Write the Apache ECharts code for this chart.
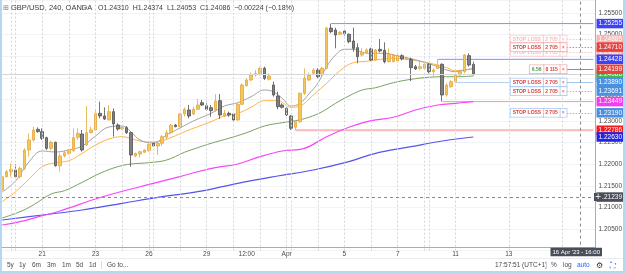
<!DOCTYPE html>
<html>
<head>
<meta charset="utf-8">
<script src="https://cdn.jsdelivr.net/npm/echarts@6/dist/echarts.min.js"></script>
<style>
html, body { margin: 0; padding: 0; background: #fff; }
#chart { width: 625px; height: 273px; }
</style>
</head>
<body>
<div id="chart"></div>
<script>
// GBP/USD 240 (4h) OANDA. bar 0 = Fri 17 Mar 16:00, bar 106 = Tue 11 Apr 16:00
const slotCount = 134;
const labelIdx = [9, 21, 33, 46, 55, 64, 77, 89, 102, 114];
const labelText = ['21', '23', '26', '29', '12:00', 'Apr', '5', '7', '11', '13'];
const dayBreaks = [2, 3, 9, 15, 21, 27, 33, 34, 40, 46, 52, 58, 64, 65, 71, 77, 83, 89, 95, 96, 102, 114, 126];

const open = [
  1.21403, 1.21711, 1.21827, 1.21866, 1.21711, 1.21904, 1.22329, 1.22560, 1.22807, 1.22753,
  1.22614, 1.22367, 1.22506, 1.21966, 1.22190, 1.22252, 1.22313, 1.22622, 1.22699, 1.22445,
  1.22730, 1.22792, 1.23178, 1.23116, 1.23023, 1.23216, 1.22907, 1.22815, 1.22846, 1.22730,
  1.22190, 1.22236, 1.22275, 1.22313, 1.22483, 1.22421, 1.22483, 1.22622, 1.22730, 1.22907,
  1.22869, 1.23162, 1.23255, 1.23162, 1.23270, 1.23424, 1.23355, 1.23309, 1.23255, 1.23471,
  1.23116, 1.23178, 1.23162, 1.23023, 1.23386, 1.23818, 1.23949, 1.24065, 1.24081, 1.24219,
  1.23965, 1.23833, 1.23579, 1.23370, 1.23293, 1.23116, 1.22853, 1.22985, 1.23641, 1.23949,
  1.24104, 1.24181, 1.24065, 1.24219, 1.25150, 1.25107, 1.25006, 1.25084, 1.25006, 1.24852,
  1.24698, 1.24528, 1.24582, 1.24667, 1.24412, 1.24659, 1.24636, 1.24374, 1.24374, 1.24389,
  1.24513, 1.24428, 1.24428, 1.24258, 1.24219, 1.24219, 1.24312, 1.24142, 1.24219, 1.24312,
  1.23602, 1.23795, 1.23911, 1.24065, 1.24142, 1.24513, 1.24310
];
const high = [
  1.22020, 1.21866, 1.22020, 1.22005, 1.21943, 1.22367, 1.22715, 1.22869, 1.22853, 1.22830,
  1.22637, 1.22545, 1.22522, 1.22252, 1.22313, 1.22344, 1.22830, 1.22830, 1.22792, 1.23347,
  1.22869, 1.23255, 1.23448, 1.23316, 1.23370, 1.23293, 1.22946, 1.22869, 1.22884, 1.22753,
  1.22267, 1.22313, 1.22344, 1.22483, 1.22522, 1.22522, 1.22676, 1.22792, 1.22931, 1.22931,
  1.23178, 1.23316, 1.23370, 1.23332, 1.23509, 1.23486, 1.23409, 1.23370, 1.23625, 1.23625,
  1.23255, 1.23216, 1.23178, 1.23409, 1.23872, 1.23988, 1.24127, 1.24181, 1.24258, 1.24258,
  1.24104, 1.23911, 1.23679, 1.23409, 1.23316, 1.23139, 1.23008, 1.23656, 1.24219, 1.24119,
  1.24219, 1.24219, 1.24258, 1.25184, 1.25255, 1.25161, 1.25084, 1.25107, 1.25030, 1.25161,
  1.24798, 1.24682, 1.24682, 1.24698, 1.24667, 1.24898, 1.24821, 1.24682, 1.24551, 1.24544,
  1.24544, 1.24489, 1.24466, 1.24297, 1.24374, 1.24335, 1.24335, 1.24219, 1.24428, 1.24335,
  1.23872, 1.23942, 1.24104, 1.24181, 1.24544, 1.24567, 1.24374
];
const low = [
  1.21364, 1.21696, 1.21711, 1.21673, 1.21673, 1.21866, 1.22174, 1.22522, 1.22730, 1.22560,
  1.22329, 1.22329, 1.21943, 1.21827, 1.22159, 1.22221, 1.22290, 1.22560, 1.22290, 1.22421,
  1.22715, 1.22776, 1.23062, 1.23023, 1.23023, 1.22637, 1.22776, 1.22799, 1.22699, 1.21943,
  1.22159, 1.22159, 1.22267, 1.22290, 1.22406, 1.22213, 1.22421, 1.22576, 1.22715, 1.22853,
  1.22853, 1.23100, 1.23062, 1.23139, 1.23255, 1.23347, 1.23239, 1.23100, 1.23216, 1.23046,
  1.23100, 1.23100, 1.22985, 1.23008, 1.23371, 1.23795, 1.23926, 1.24027, 1.24050, 1.23949,
  1.23934, 1.23563, 1.23270, 1.23293, 1.23116, 1.22792, 1.22786, 1.22962, 1.23602, 1.23926,
  1.24065, 1.23988, 1.24026, 1.24196, 1.25030, 1.24682, 1.24991, 1.24976, 1.24798, 1.24605,
  1.24335, 1.24489, 1.24559, 1.24389, 1.24397, 1.24590, 1.24335, 1.24358, 1.24358, 1.24374,
  1.24405, 1.24412, 1.23926, 1.24181, 1.24181, 1.24204, 1.24104, 1.24027, 1.24204, 1.23455,
  1.23564, 1.23772, 1.23872, 1.24042, 1.24104, 1.24258, 1.24053
];
const close = [
  1.21711, 1.21827, 1.21881, 1.21711, 1.21904, 1.22329, 1.22560, 1.22792, 1.22753, 1.22599,
  1.22367, 1.22506, 1.21966, 1.22190, 1.22267, 1.22329, 1.22614, 1.22715, 1.22329, 1.22730,
  1.22792, 1.23178, 1.23116, 1.23046, 1.23216, 1.22931, 1.22815, 1.22853, 1.22730, 1.22213,
  1.22252, 1.22290, 1.22329, 1.22460, 1.22421, 1.22483, 1.22637, 1.22730, 1.22900, 1.22869,
  1.23162, 1.23270, 1.23116, 1.23270, 1.23370, 1.23370, 1.23270, 1.23239, 1.23463, 1.23139,
  1.23178, 1.23139, 1.23023, 1.23386, 1.23834, 1.23949, 1.24065, 1.24104, 1.24219, 1.23988,
  1.24042, 1.23602, 1.23332, 1.23316, 1.23139, 1.22830, 1.22985, 1.23641, 1.23988, 1.24065,
  1.24181, 1.24026, 1.24219, 1.25150, 1.25068, 1.24991, 1.25053, 1.25022, 1.24837, 1.24682,
  1.24489, 1.24590, 1.24644, 1.24412, 1.24644, 1.24621, 1.24374, 1.24544, 1.24528, 1.24520,
  1.24436, 1.24466, 1.24235, 1.24204, 1.24258, 1.24312, 1.24142, 1.24181, 1.24297, 1.23602,
  1.23834, 1.23911, 1.24065, 1.24142, 1.24528, 1.24297, 1.24086
];

// moving averages: [bar, price]
const maGray = [[0,1.21356],[3,1.21611],[6,1.22051],[9,1.22306],[12,1.22282],[15,1.22329],[18,1.22421],[21,1.22653],[24,1.22861],[27,1.22884],[29,1.22745],[31,1.22560],[34,1.22491],[37,1.22676],[40,1.22838],[43,1.23000],[47,1.23178],[50,1.23347],[53,1.23424],[56,1.23563],[59,1.23718],[61,1.23678],[63,1.23525],[65,1.23347],[67,1.23410],[69,1.23625],[71,1.23873],[73,1.24257],[75,1.24528],[77,1.24660],[79,1.24660],[81,1.24590],[83,1.24567],[86,1.24567],[89,1.24505],[92,1.24442],[95,1.24359],[98,1.24257],[100,1.24181],[102,1.24141],[104,1.24181],[106,1.24220]];
const maOrange = [[0,1.21132],[3,1.21363],[6,1.21650],[9,1.21942],[12,1.22035],[15,1.22081],[18,1.22252],[21,1.22444],[24,1.22583],[27,1.22637],[30,1.22560],[33,1.22514],[36,1.22544],[39,1.22660],[42,1.22792],[44,1.22868],[47,1.22984],[50,1.23116],[53,1.23178],[56,1.23317],[59,1.23470],[62,1.23470],[65,1.23317],[67,1.23347],[70,1.23602],[73,1.23873],[76,1.24164],[79,1.24350],[82,1.24382],[85,1.24428],[88,1.24451],[91,1.24428],[94,1.24382],[97,1.24319],[100,1.24234],[102,1.24164],[104,1.24181],[106,1.24197]];
const maGreen = [[0,1.20755],[4,1.20900],[7,1.21056],[11,1.21310],[14,1.21387],[18,1.21581],[22,1.21789],[26,1.21942],[29,1.22005],[33,1.22035],[37,1.22097],[41,1.22275],[44,1.22382],[47,1.22484],[51,1.22600],[55,1.22729],[59,1.22884],[63,1.22961],[66,1.23007],[69,1.23086],[72,1.23215],[75,1.23410],[78,1.23579],[81,1.23718],[84,1.23771],[88,1.23887],[92,1.23965],[96,1.24012],[100,1.24025],[103,1.24025],[106,1.24042]];
const maMagenta = [[0,1.20593],[4,1.20669],[9,1.20808],[13,1.20917],[22,1.21229],[31,1.21479],[40,1.21711],[44,1.21826],[48,1.21919],[53,1.22005],[58,1.22174],[63,1.22306],[68,1.22368],[73,1.22637],[78,1.22854],[83,1.23007],[88,1.23086],[93,1.23255],[98,1.23370],[102,1.23410],[106,1.23449]];
const maBlue = [[0,1.20708],[9,1.20824],[18,1.20940],[27,1.21095],[36,1.21248],[44,1.21364],[53,1.21558],[62,1.21727],[70,1.21866],[78,1.22058],[84,1.22252],[92,1.22405],[99,1.22537],[106,1.22630]];

// drawn horizontal levels: price and first bar
const levelPrice = [1.25255, 1.24428, 1.23890, 1.23449, 1.22786];
const levelStart = [74, 98, 102, 99, 66];

// stop orders
const stopRed = [1.24885, 1.24710, 1.24597];
const stopBlue = [1.23890, 1.23691, 1.23190];
const stopQty = '2 705';
const pnlPrice = 1.24199;
const pnlText = ['6.56', '8 115'];

// right axis tags (later ones drawn on top)
const tagPrice = [1.25255, 1.24885, 1.24597, 1.24710, 1.24428, 1.24010, 1.24086, 1.24199, 1.23890, 1.23691, 1.23449, 1.23190, 1.22786, 1.22630];
const lastClose = 1.24086;
const crossPrice = 1.21239;
const crossBar = 130;
const crossTime = "16 Apr '23 - 16:00";

const FONT = 'Liberation Sans';
const cats = [];
for (let i = 0; i < slotCount; i++) cats.push(String(i));

const candles = [];
for (let i = 0; i < open.length; i++) {
  candles.push([open[i], close[i], low[i], high[i]]);
}

const tagStyle = {
  1.25255: '#3d43f5',
  1.24885: '#f6b4b4',
  1.24710: '#e8423f',
  1.24597: '#f6b4b4',
  1.24428: '#3d43f5',
  1.24199: '#e8423f',
  1.24086: '#4caf50',
  1.24010: '#4a90e2',
  1.23890: '#4a90e2',
  1.23691: '#4a90e2',
  1.23449: '#f23bf2',
  1.23190: '#4a90e2',
  1.22786: '#f21c1c',
  1.22630: '#2323e8'
};
const levelColor = ['#8a8aff', '#8a8aff', '#b3cff2', '#f29a9a', '#f9b8b8'];
const levelWidth = [1, 1, 1, 1, 2];

const marks = [];
dayBreaks.forEach(function (b) {
  marks.push({ xAxis: b, lineStyle: { color: '#d3d6dc', type: [2, 2], width: 1 }, label: { show: false } });
});
// last price line
marks.push({ yAxis: lastClose, lineStyle: { color: '#d6d6d6', type: 'solid', width: 1 }, label: { show: false } });

function cell(color, bold) {
  return { color: color, fontSize: 5, fontWeight: bold ? 'bold' : 'normal', fontFamily: FONT, padding: [1.8, 2, 1.2, 2], lineHeight: 5.5 };
}
function orderLine(p, lineColor, borderColor, textColor, opacity, first, second, firstColor, lineType) {
  const r = {
    a: Object.assign(cell(firstColor || textColor, true), { borderColor: borderColor, borderWidth: 0.8, backgroundColor: '#fff' }),
    b: Object.assign(cell(textColor, true), { borderColor: borderColor, borderWidth: 0.8, backgroundColor: '#fff' }),
    c: Object.assign(cell(textColor, false), { borderColor: borderColor, borderWidth: 0.8, backgroundColor: '#fff' })
  };
  const ls = { color: lineColor, type: lineType || [1.5, 1.5], width: 1, opacity: opacity };
  return [
    { coord: [127, p], lineStyle: ls,
      label: { show: true, position: 'start', distance: 0, formatter: '{a|' + first + '}{b|' + second + '}{c|×}', rich: r, opacity: opacity } },
    { coord: [slotCount - 1, p], lineStyle: ls }
  ];
}
marks.push(orderLine(stopRed[0], '#f3a0a0', '#f6c0c0', '#f08a8a', 0.6, 'STOP LOSS', stopQty));
marks.push(orderLine(stopRed[2], '#f3a0a0', '#f6c0c0', '#f08a8a', 0.6, 'STOP LOSS', stopQty));
marks.push(orderLine(stopRed[1], '#ef7d7d', '#f2aaaa', '#e0403c', 1, 'STOP LOSS', stopQty));
stopBlue.forEach(function (p) {
  marks.push(orderLine(p, '#8fb8ea', '#a9c8ef', '#e0403c', 1, 'STOP LOSS', stopQty));
});
marks.push(orderLine(pnlPrice, '#ef6b6b', '#f2aaaa', '#e0403c', 1, pnlText[0], pnlText[1], '#43a047', 'solid'));

// crosshair
marks.push({ xAxis: crossBar, lineStyle: { color: '#8a8a8a', type: [3, 3], width: 1 }, label: { show: false } });
marks.push({ yAxis: crossPrice, lineStyle: { color: '#8a8a8a', type: [3, 3], width: 1 },
  label: { show: true, position: 'end', distance: 1, formatter: crossPrice.toFixed(5), backgroundColor: '#4a4e59', color: '#fff',
    fontSize: 6.5, fontFamily: FONT, padding: [1.5, 2, 1, 2] } });

tagPrice.forEach(function (p) {
  marks.push({ yAxis: p, lineStyle: { color: 'rgba(0,0,0,0)', width: 0 },
    label: { show: true, position: 'end', distance: 1, formatter: p.toFixed(5), backgroundColor: tagStyle[p], color: '#fff',
      fontSize: 6.5, fontFamily: FONT, padding: [1.5, 2, 1, 2] } });
});

function maSeries(name, data, color, width) {
  return { name: name, type: 'line', data: data, showSymbol: false, smooth: 0.4, connectNulls: true,
    lineStyle: { color: color, width: width }, silent: true, animation: false, z: 3 };
}
const levelSeries = levelPrice.map(function (p, k) {
  return { name: 'level' + k, type: 'line', data: [[levelStart[k], p], [slotCount - 1, p]], showSymbol: false,
    lineStyle: { color: levelColor[k], width: levelWidth[k] }, silent: true, animation: false, z: 2 };
});

function txt(x, y, s, font, fill, extra) {
  return { type: 'text', x: x, y: y, z: 100, style: Object.assign({ text: s, font: font, fill: fill, verticalAlign: 'middle' }, extra || {}) };
}

const tb = '6.5px ' + FONT;
const option = {
  animation: false,
  backgroundColor: '#fff',
  grid: { left: 0, right: 23, top: 0, bottom: 22.4 },
  xAxis: {
    type: 'category',
    data: cats,
    boundaryGap: true,
    offset: -3,
    axisLine: { lineStyle: { color: '#a8acb5', width: 1 } },
    axisTick: { show: false },
    splitLine: { show: false },
    axisLabel: {
      interval: function (i) { return labelIdx.indexOf(i) >= 0; },
      formatter: function (v, i) { return labelText[labelIdx.indexOf(i)]; },
      fontSize: 6.5, fontFamily: FONT, color: '#4a4a4a', margin: 3.5
    }
  },
  yAxis: {
    type: 'value',
    position: 'right',
    min: 1.2,
    max: 1.25801,
    interval: 0.005,
    axisLine: { show: true, lineStyle: { color: '#a8acb5', width: 1 } },
    axisTick: { show: false },
    splitLine: { lineStyle: { color: '#f2f3f6', width: 1 } },
    axisLabel: {
      showMinLabel: false, showMaxLabel: false,
      formatter: function (v) { return v.toFixed(5); },
      fontSize: 6.5, fontFamily: FONT, color: '#4a4a4a', margin: 3
    }
  },
  series: levelSeries.concat([
    maSeries('MA200', maBlue, '#5454f0', 1.2),
    maSeries('MA100', maMagenta, '#f745f7', 1.2),
    maSeries('MA50', maGreen, '#7aa35e', 1),
    maSeries('MA20', maOrange, '#ffb347', 1),
    maSeries('MA8', maGray, '#a3a3a3', 1),
    {
      name: 'GBPUSD',
      type: 'candlestick',
      data: candles,
      barWidth: 3,
      z: 4,
      itemStyle: { color: '#f7c65b', color0: '#808080', borderColor: '#e5a73c', borderColor0: '#505050', borderWidth: 0.8 },
      markLine: { symbol: 'none', silent: true, animation: false, precision: 5, data: marks }
    }
  ]),
  graphic: [
    // frame
    { type: 'rect', left: 0, top: 0, shape: { width: 2, height: 273 }, style: { fill: '#b3d8f2' }, z: 100 },
    { type: 'rect', left: 623, top: 0, shape: { width: 2, height: 273 }, style: { fill: '#b3d8f2' }, z: 100 },
    { type: 'rect', left: 0, top: 271, shape: { width: 625, height: 2 }, style: { fill: '#b3d8f2' }, z: 100 },
    { type: 'rect', left: 2, top: 258, shape: { width: 621, height: 0.8 }, style: { fill: '#e3e6ec' }, z: 100 },
    // header
    txt(3, 8, '⊞', '7px "DejaVu Sans"', '#777'),
    txt(11, 8, 'GBP/USD, 240, OANDA', '7.5px ' + FONT, '#3c3c3c'),
    txt(84, 8, '▾', '6px "DejaVu Sans"', '#999'),
    txt(98, 8, 'O1.24310  H1.24374  L1.24053  C1.24086  −0.00224 (−0.18%)', '7px ' + FONT, '#3c3c3c'),
    // crosshair extras
    { type: 'rect', left: 594, top: 193, shape: { width: 8, height: 8 }, style: { fill: '#4a4e59' }, z: 100 },
    txt(598, 197, '+', '8px "DejaVu Sans"', '#fff', { align: 'center' }),
    txt(602, 252, crossTime, '6px ' + FONT, '#fff', { align: 'right', backgroundColor: '#4a4e59', padding: [1.5, 2, 1, 2] }),
    // bottom toolbar
    txt(7, 265.5, '5y', tb, '#4a4a4a'),
    txt(19, 265.5, '1y', tb, '#4a4a4a'),
    txt(32, 265.5, '6m', tb, '#4a4a4a'),
    txt(47, 265.5, '3m', tb, '#4a4a4a'),
    txt(62, 265.5, '1m', tb, '#4a4a4a'),
    txt(76, 265.5, '5d', tb, '#4a4a4a'),
    txt(89, 265.5, '1d', tb, '#4a4a4a'),
    { type: 'rect', left: 101, top: 261, shape: { width: 0.8, height: 8 }, style: { fill: '#d6d9df' }, z: 100 },
    txt(107, 265.5, 'Go to...', tb, '#4a4a4a'),
    txt(495, 265.5, '17:57:51 (UTC+1)', tb, '#4a4a4a'),
    { type: 'rect', left: 546, top: 261, shape: { width: 0.8, height: 8 }, style: { fill: '#d6d9df' }, z: 100 },
    txt(551, 265.5, '%', tb, '#4a4a4a'),
    txt(563, 265.5, 'log', tb, '#4a4a4a'),
    txt(577, 265.5, 'auto', tb, '#2962ff'),
    txt(596, 265.5, '⚙', '8px "DejaVu Sans"', '#333'),
    txt(610, 265.5, '⛶', '8px "DejaVu Sans"', '#2962ff')
  ]
};

const chart = echarts.init(document.getElementById('chart'), null, { renderer: 'canvas' });
chart.setOption(option);
</script>
</body>
</html>
